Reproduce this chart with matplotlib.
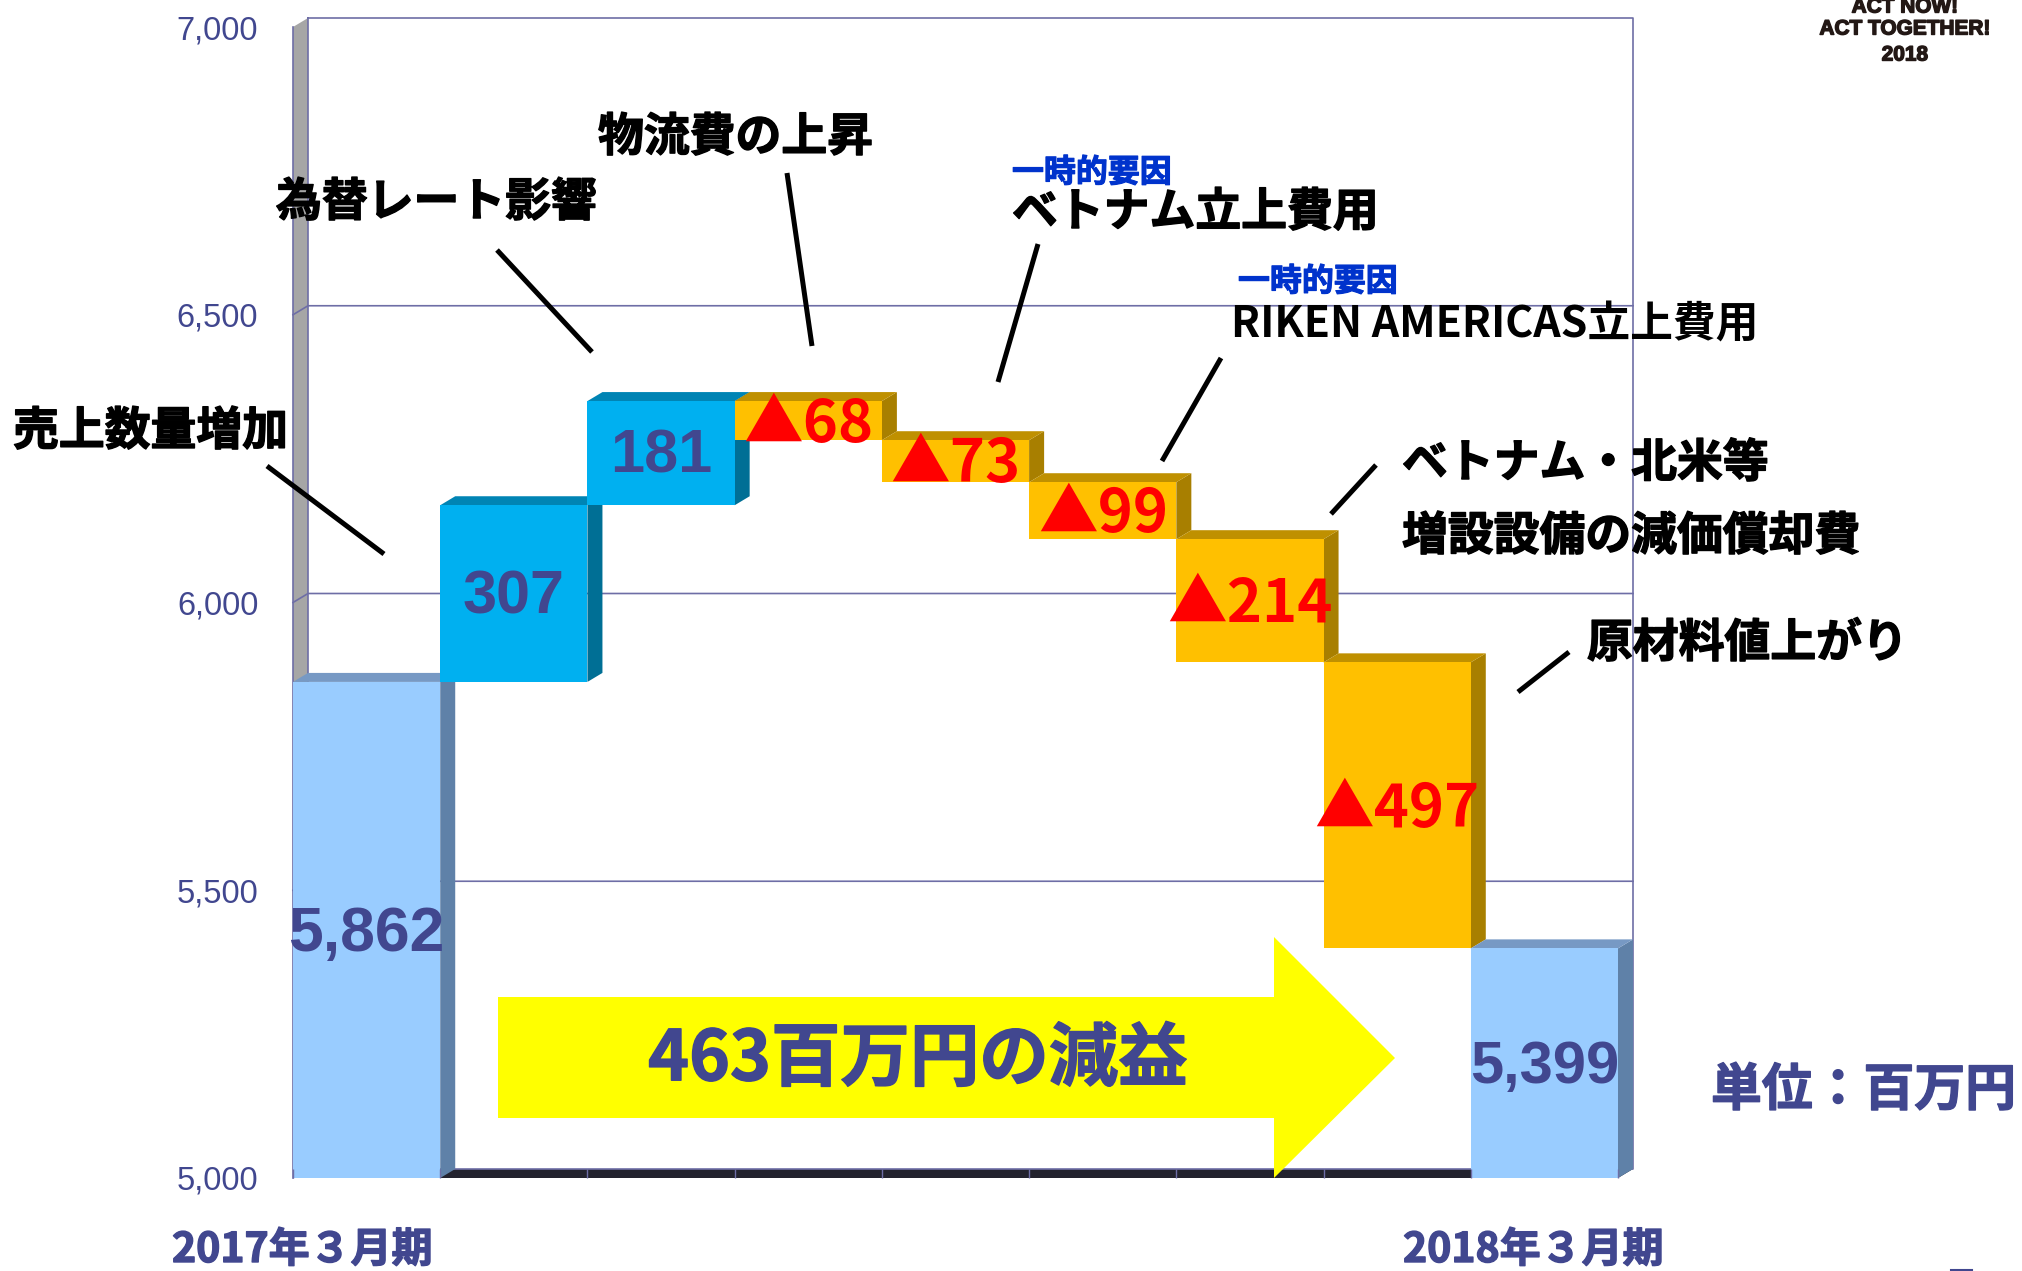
import matplotlib
matplotlib.use("Agg")
import matplotlib.pyplot as plt
import matplotlib.patheffects as pe
from matplotlib.patches import Polygon

plt.rcParams['font.family'] = ['Noto Sans CJK JP', 'DejaVu Sans']

# waterfall data
categories = ['2017', 'volume', 'fx', 'logistics', 'vietnam', 'riken', 'depreciation', 'material', '2018']
start_value = 5862
end_value = 5399
changes = [307, 181, -68, -73, -99, -214, -497]
y_ticks = [5000, 5500, 6000, 6500, 7000]
y_ticklabels = ['5,000', '5,500', '6,000', '6,500', '7,000']

NAVY = '#41478F'
AXIS = '#6E6EA6'
W, H = 2022, 1271

fig = plt.figure(figsize=(W / 100, H / 100), dpi=100, facecolor='white')

# axes box = the front plane of the fake 3d chart
left, right, bottom, top = 293, 1618, 1178, 27
ax = fig.add_axes([left / W, 1 - bottom / H, (right - left) / W, (bottom - top) / H])
ax.set_xlim(-0.5, 8.5)
ax.set_ylim(5000, 7000)
for s in ax.spines.values():
    s.set_visible(False)
ax.patch.set_visible(False)

# depth of the 3d effect in data units
dx = 15 / 147.2
dy = 9 / 0.5755

ax.set_xticks([])
ax.set_yticks(y_ticks)
ax.set_yticklabels(y_ticklabels, fontsize=23.5, color=NAVY, family=['Liberation Sans'])
ax.tick_params(axis='y', length=0, pad=25)

x0, x1 = -0.5, 8.5

# wall and floor
ax.add_patch(Polygon([(x0, 5000), (x0 + dx, 5000 + dy), (x0 + dx, 7000 + dy), (x0, 7000)],
                     fc='#A6A6A6', ec='none', zorder=1, clip_on=False))
ax.add_patch(Polygon([(x0, 5000), (x1, 5000), (x1 + dx, 5000 + dy), (x0 + dx, 5000 + dy)],
                     fc='#23232E', ec='none', zorder=1, clip_on=False))
ax.plot([x0, x0], [5000, 7000], color=AXIS, lw=1.2, zorder=1.5, clip_on=False)
ax.plot([x0 + dx, x1 + dx, x1 + dx, x0 + dx, x0 + dx], [7000 + dy, 7000 + dy, 5000 + dy, 5000 + dy, 7000 + dy],
        color=AXIS, lw=1.2, zorder=1.5, clip_on=False)
for t in y_ticks[1:-1]:
    ax.plot([x0, x0 + dx, x1 + dx], [t, t + dy, t + dy], color=AXIS, lw=1.2, zorder=1.5, clip_on=False)


def bar3d(x, lo, hi, front, top_c, side_c, z):
    a, b = x - 0.5, x + 0.5
    ax.add_patch(Polygon([(b, lo), (b + dx, lo + dy), (b + dx, hi + dy), (b, hi)],
                         fc=side_c, ec='none', zorder=z, clip_on=False))
    ax.add_patch(Polygon([(a, hi), (b, hi), (b + dx, hi + dy), (a + dx, hi + dy)],
                         fc=top_c, ec='none', zorder=z, clip_on=False))
    ax.bar(x, hi - lo, bottom=lo, width=1, color=front, linewidth=0, zorder=z + 0.1)


def label(x, y, s, size, color, fam):
    # centred on the bar, nudged down because va=center sits a little high here
    ax.annotate(s, (x, y), xytext=(0, -3), textcoords='offset points', ha='center', va='center',
                fontsize=size, fontweight='bold', color=color, family=fam, zorder=30)


# totals
base = ('#99CCFF', '#7799C4', '#5F81A8')
bar3d(0, 5000, start_value, *base, 2)
bar3d(8, 5000, end_value, *base, 2 + len(changes) + 1)

label(0, (5000 + start_value) / 2, '{:,}'.format(start_value), 45, NAVY, ['Liberation Sans'])
label(8, (5000 + end_value) / 2, '{:,}'.format(end_value), 43, NAVY, ['Liberation Sans'])

# steps
level = start_value
for i, c in enumerate(changes):
    new = level + c
    lo, hi = min(level, new), max(level, new)
    x = i + 1
    if c > 0:
        bar3d(x, lo, hi, '#00B0F0', '#0084B4', '#006F95', 3 + i)
        label(x, (lo + hi) / 2, str(c), 44, NAVY, ['Liberation Sans'])
    else:
        bar3d(x, lo, hi, '#FFC000', '#BF9000', '#A87F00', 3 + i)
        label(x, (lo + hi) / 2, '▲' + str(-c), 43, '#FF0000', ['Noto Sans CJK JP'])
    level = new

# small ticks on the floor
ax.vlines([i - 0.5 for i in range(len(categories) + 1)], 5000, 5000 + dy, color=AXIS, lw=1, zorder=20, clip_on=False)

# overlay in pixels for the slide annotations
ov = fig.add_axes([0, 0, 1, 1], zorder=5)
ov.set_xlim(0, W)
ov.set_ylim(H, 0)
ov.axis('off')

ov.add_patch(Polygon([(498, 997), (1274, 997), (1274, 937), (1395, 1058), (1274, 1178), (1274, 1118), (498, 1118)],
                     fc='#FFFF00', ec='none'))

leaders = [
    ((267, 466), (384, 554)),
    ((497, 250), (592, 352)),
    ((787, 173), (812, 346)),
    ((1038, 244), (998, 382)),
    ((1221, 358), (1162, 461)),
    ((1376, 465), (1331, 514)),
    ((1569, 652), (1518, 692)),
]
for p, q in leaders:
    ov.plot([p[0], q[0]], [p[1], q[1]], color='black', lw=3.6, solid_capstyle='butt')

heavy = [pe.withStroke(linewidth=1.0, foreground='black')]
notes = [
    ('売上数量増加', 13, 432),
    ('為替レート影響', 276, 203),
    ('物流費の上昇', 598, 138),
    ('ベトナム立上費用', 1012, 213),
    ('ベトナム・北米等', 1402, 464),
    ('増設設備の減価償却費', 1402, 537),
    ('原材料値上がり', 1587, 644),
]
for s, x, y in notes:
    ov.text(x, y, s, fontsize=33, fontweight='bold', color='black', ha='left', va='center', path_effects=heavy)

ov.text(1231, 325, 'RIKEN AMERICAS立上費用', fontsize=30.8, color='black', ha='left', va='center', fontweight='bold')

blue_stroke = [pe.withStroke(linewidth=0.8, foreground='#0033CC')]
for x, y in [(1012, 173), (1238, 282)]:
    ov.text(x, y, '一時的要因', fontsize=23, fontweight='bold', color='#0033CC', ha='left', va='center',
            path_effects=blue_stroke)

navy_stroke = [pe.withStroke(linewidth=1.0, foreground=NAVY)]
ov.text(918, 1060, '463百万円の減益', fontsize=50, fontweight='bold', color=NAVY, ha='center', va='center',
        path_effects=navy_stroke)
ov.text(1711, 1091, '単位：百万円', fontsize=36.6, fontweight='bold', color=NAVY, ha='left', va='center',
        path_effects=navy_stroke)
ov.text(172, 1250, '2017年３月期', fontsize=29.5, fontweight='bold', color=NAVY, ha='left', va='center',
        path_effects=navy_stroke)
ov.text(1403, 1250, '2018年３月期', fontsize=29.5, fontweight='bold', color=NAVY, ha='left', va='center',
        path_effects=navy_stroke)

# slogan, no narrow face here so it is just set small
slogan_stroke = [pe.withStroke(linewidth=1.0, foreground='#231815')]
for s, y in [('ACT NOW!', 7), ('ACT TOGETHER!', 29), ('2018', 55)]:
    ov.text(1905, y, s, fontsize=15, fontweight='bold', color='#231815', ha='center', va='center',
            family=['Liberation Sans'], path_effects=slogan_stroke)

ov.plot([1951, 1972], [1269.5, 1269.5], color=NAVY, lw=1.5)

fig.savefig('out.png', dpi=100)
